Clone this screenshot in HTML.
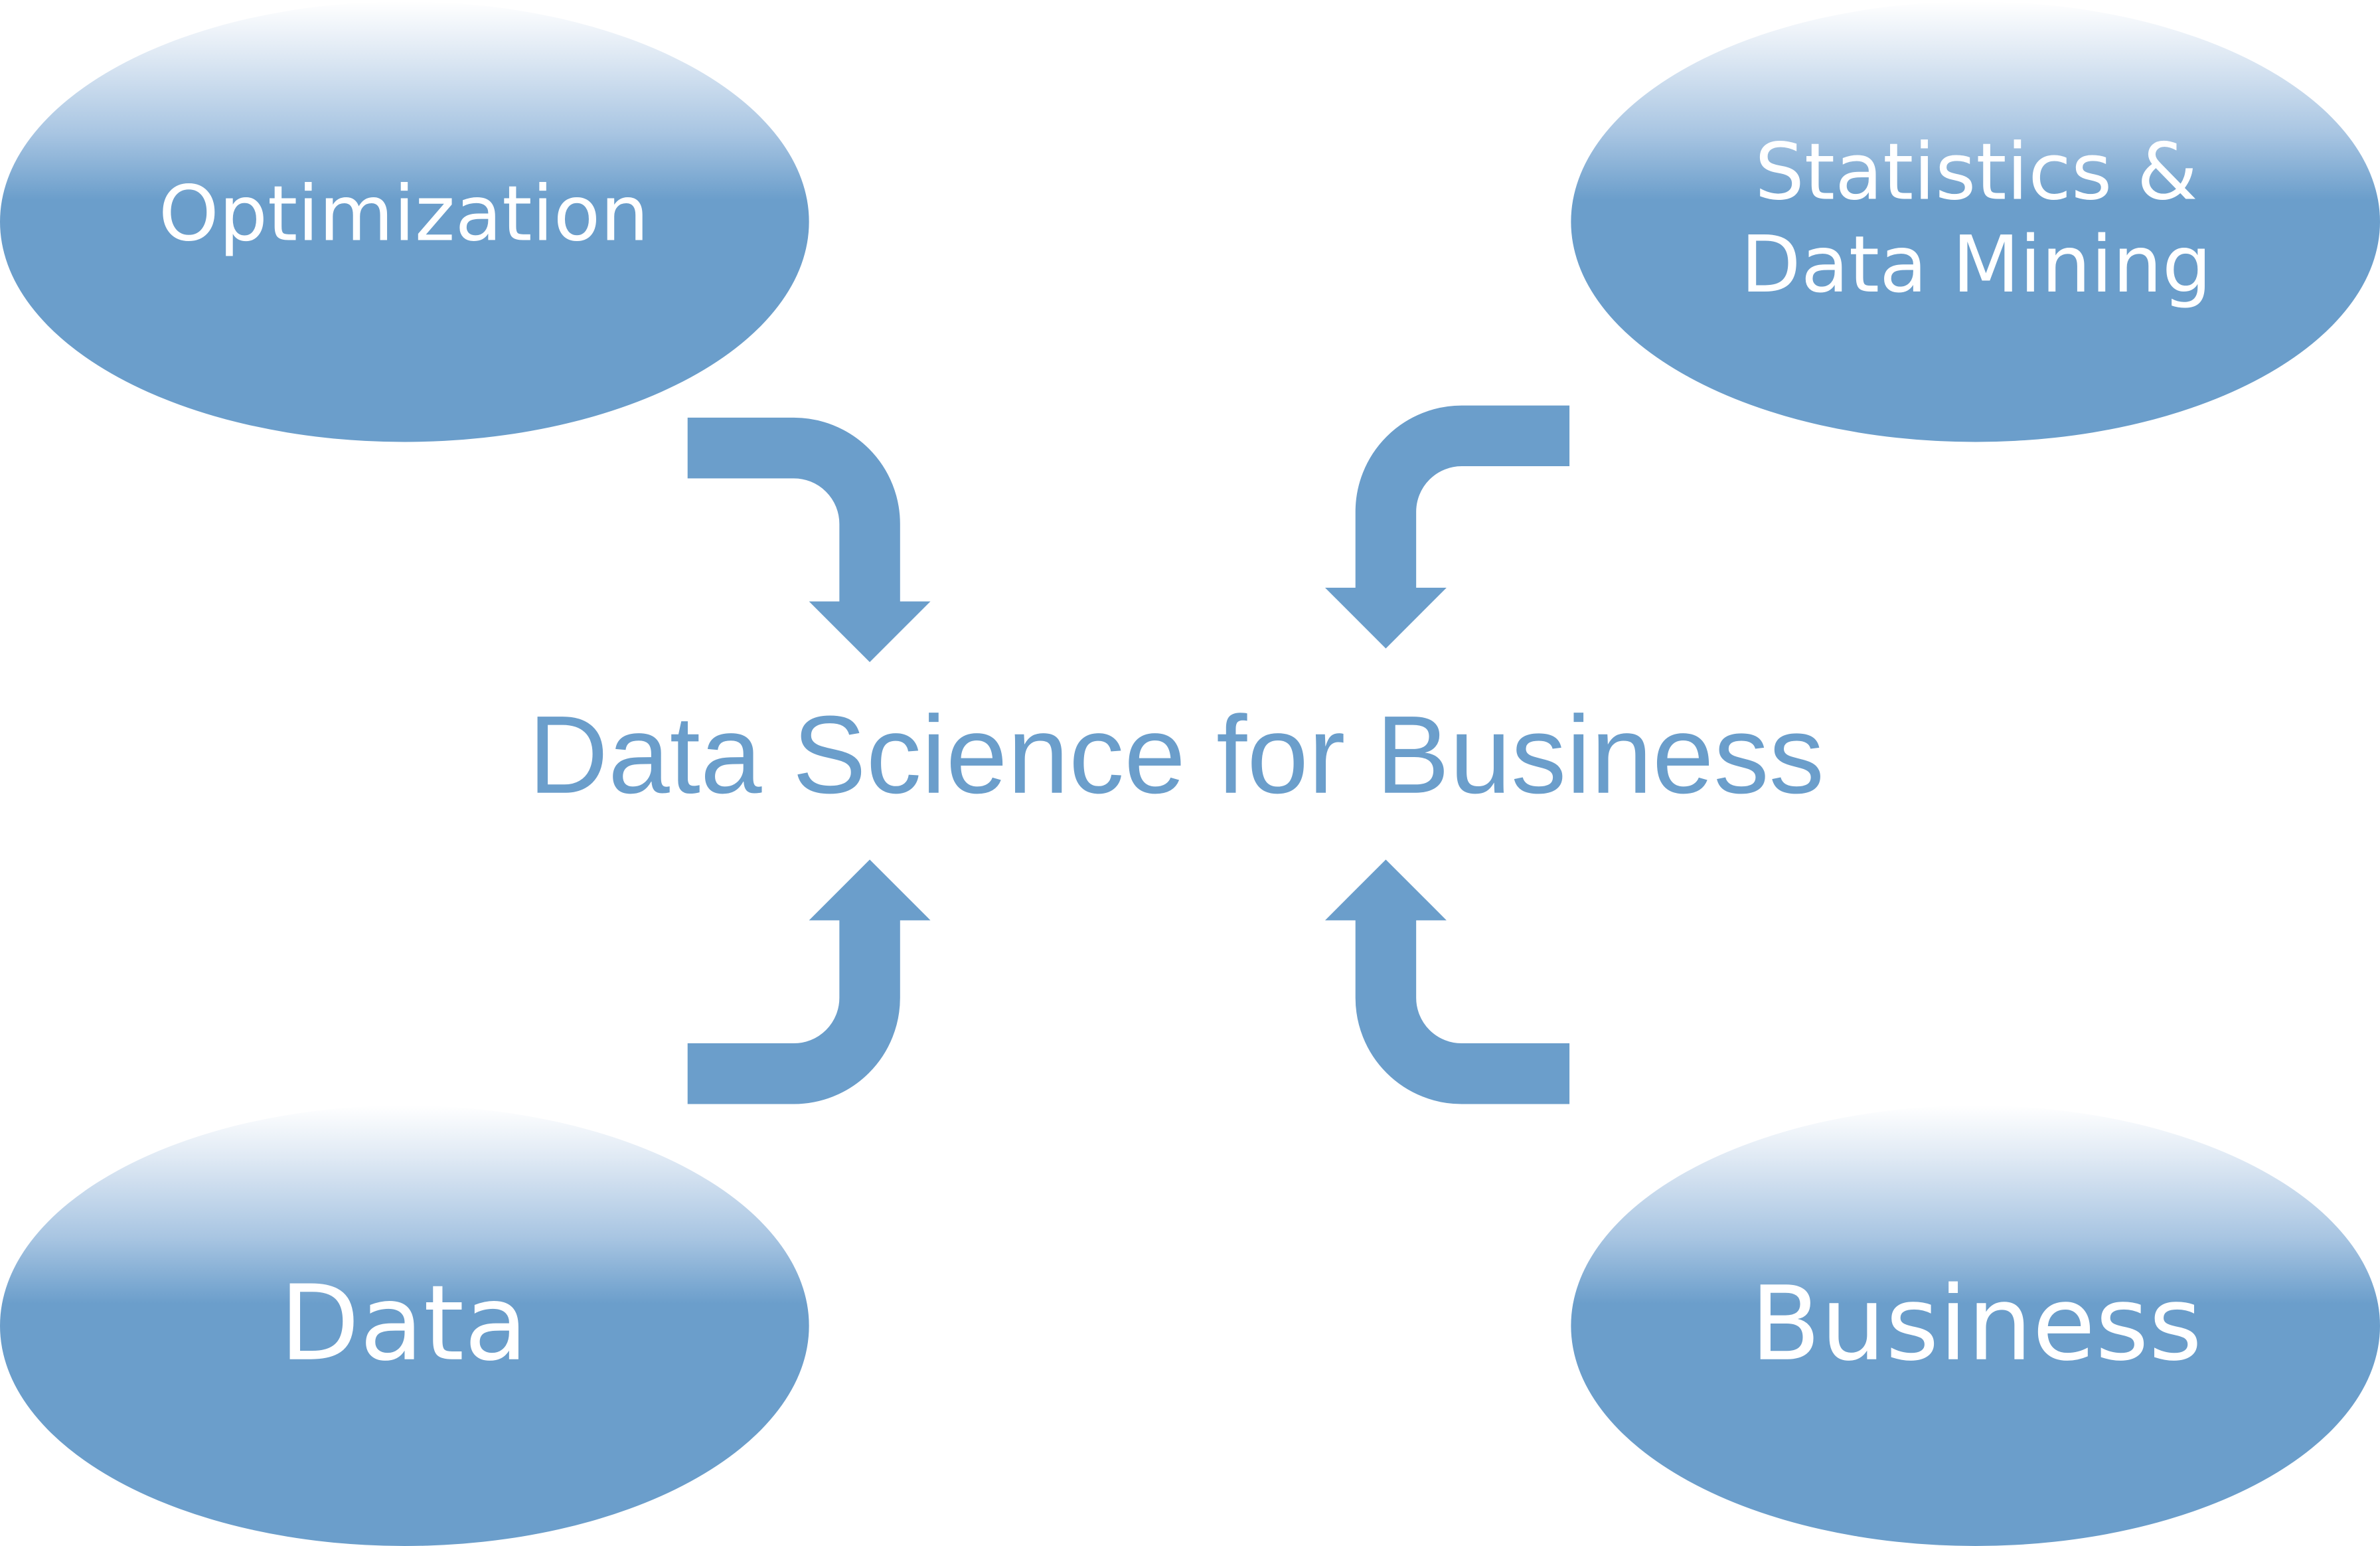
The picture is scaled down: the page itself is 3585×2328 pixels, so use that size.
<!DOCTYPE html>
<html><head><meta charset="utf-8"><style>
html,body{margin:0;padding:0;background:#fff;}
svg{display:block;}
</style></head><body>
<svg width="3585" height="2328" viewBox="0 0 1568 1018" preserveAspectRatio="none" xmlns="http://www.w3.org/2000/svg">
<defs>
<linearGradient id="g" x1="0" y1="0" x2="0" y2="1">
<stop offset="0" stop-color="#ffffff"/>
<stop offset="0.12" stop-color="#dfe9f4"/>
<stop offset="0.3" stop-color="#a8c5e2"/>
<stop offset="0.45" stop-color="#6b9ecb"/>
<stop offset="1" stop-color="#6b9ecb"/>
</linearGradient>
</defs>
<ellipse cx="266.5" cy="146" rx="266.5" ry="145" fill="url(#g)"/>
<ellipse cx="1301.5" cy="146" rx="266.5" ry="145" fill="url(#g)"/>
<ellipse cx="266.5" cy="873" rx="266.5" ry="145" fill="url(#g)"/>
<ellipse cx="1301.5" cy="873" rx="266.5" ry="145" fill="url(#g)"/>

<g fill="none" stroke="#6b9ecb" stroke-width="40">
<path d="M453,295 H523 A50,50 0 0 1 573,345 V397"/>
<path d="M1034,287 H963 A50,50 0 0 0 913,337 V388"/>
<path d="M453,707 H523 A50,50 0 0 0 573,657 V605"/>
<path d="M1034,707 H963 A50,50 0 0 1 913,657 V605"/>
</g>
<g fill="#6b9ecb">
<polygon points="533,396 613,396 573,436"/>
<polygon points="873,387 953,387 913,427"/>
<polygon points="533,606 613,606 573,566"/>
<polygon points="873,606 953,606 913,566"/>
</g>

<g font-family="'DejaVu Sans', Verdana, sans-serif" fill="#ffffff" text-anchor="middle">
<text x="266" y="158" font-size="50.5">Optimization</text>
<text x="1302" y="131" font-size="51.5">Statistics &amp;</text>
<text x="1302" y="192" font-size="51.5">Data Mining</text>
<text x="266" y="895" font-size="68.5">Data</text>
<text x="1302" y="895" font-size="67.5">Business</text>
</g>
<text x="775" y="522" font-family="'Liberation Sans', Arial, sans-serif" font-size="72.8" fill="#6b9ecb" text-anchor="middle">Data Science for Business</text>
</svg>
</body></html>
